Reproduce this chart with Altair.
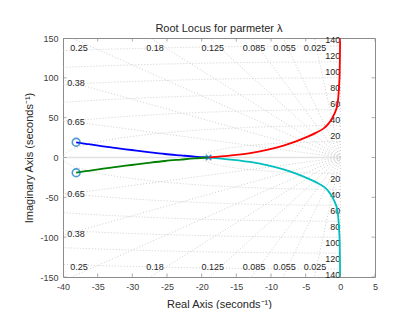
import altair as alt
import numpy as np
import pandas as pd

# ---- data ----
x_ticks = [-40, -35, -30, -25, -20, -15, -10, -5, 0, 5]
y_ticks = [-150, -100, -50, 0, 50, 100, 150]
zeta_vals = [0.025, 0.055, 0.085, 0.125, 0.18, 0.25, 0.38, 0.65]
zeta_text = ["0.025", "0.055", "0.085", "0.125", "0.18", "0.25", "0.38", "0.65"]
wn_vals = [20, 40, 60, 80, 100, 120, 140]

blue_re = [-38.1, -36.5, -34.9, -32.5, -30.1, -27.7, -25.3, -23.0, -21.0, -19.0]
blue_im = [19.1, 16.9, 14.8, 12.0, 9.4, 6.8, 4.4, 2.6, 1.1, 0.0]
green_re = [-38.1, -36.5, -34.9, -32.5, -30.1, -27.7, -25.3, -23.0, -21.0, -19.0]
green_im = [-19.1, -16.9, -14.8, -12.0, -9.4, -6.8, -4.4, -2.6, -1.1, 0.0]
red_re = [-19.0, -17.2, -15.4, -13.0, -10.6, -8.2, -6.4, -4.8, -3.4, -2.4, -1.7,
          -1.2, -0.75, -0.48, -0.3, -0.18, -0.1, -0.06, -0.03]
red_im = [0.0, 1.3, 2.9, 5.6, 9.6, 15.0, 20.2, 25.8, 31.5, 36.6, 42.5,
          49.0, 57.0, 64.0, 75.0, 90.0, 105.0, 125.0, 150.0]
cyan_re = [-19.0, -17.2, -15.4, -13.0, -10.6, -8.2, -6.4, -4.8, -3.4, -2.4, -1.7,
           -1.2, -0.75, -0.48, -0.3, -0.18, -0.1, -0.06, -0.03]
cyan_im = [0.0, -1.3, -2.9, -5.6, -9.6, -15.0, -20.2, -25.8, -31.5, -36.6, -42.5,
           -49.0, -57.0, -64.0, -75.0, -90.0, -105.0, -125.0, -150.0]
zero_re = [-38.1, -38.1]
zero_im = [19.1, -19.1]
pole_re = [-19.0]
pole_im = [0.0]

XMIN, XMAX, YMIN, YMAX = -40, 5, -150, 150
FONT = "Liberation Sans"
AXC = "#8c8c8c"
TXT = "#262626"

def xenc():
    return alt.X("x:Q", scale=alt.Scale(domain=[XMIN, XMAX], nice=False, zero=False),
                 axis=alt.Axis(values=x_ticks, title="Real Axis (seconds⁻¹)", ticks=False,
                               tickSize=0, domain=False, grid=False, labelFlush=False,
                               labelOverlap=False, labelExpr="datum.value + ''",
                               labelFont=FONT, labelFontSize=9, labelColor="#404040",
                               labelPadding=5, titleFont=FONT, titleFontSize=11,
                               titleFontWeight="normal", titleColor=TXT, titlePadding=7))

def yenc():
    return alt.Y("y:Q", scale=alt.Scale(domain=[YMIN, YMAX], nice=False, zero=False),
                 axis=alt.Axis(values=y_ticks, title="Imaginary Axis (seconds⁻¹)", ticks=False,
                               tickSize=0, domain=False, grid=False, labelFlush=False,
                               labelOverlap=False, labelExpr="datum.value + ''",
                               labelFont=FONT, labelFontSize=9, labelColor="#404040",
                               labelPadding=5, titleFont=FONT, titleFontSize=11,
                               titleFontWeight="normal", titleColor=TXT, titlePadding=5))

# damping-ratio rays
ray_rows = []
lab_rows = []
for i, z in enumerate(zeta_vals):
    s = np.sqrt(1 - z * z) / z
    if 150 / s <= 40:
        ex, ey = -150 / s, 150.0
        lab_rows.append({"x": -146 / s, "y": 137, "t": zeta_text[i], "a": "center"})
        lab_rows.append({"x": -146 / s, "y": -138, "t": zeta_text[i], "a": "center"})
    else:
        ex, ey = -40.0, 40 * s
        lab_rows.append({"x": -39.4, "y": 38.8 * s - 1, "t": zeta_text[i], "a": "left"})
        lab_rows.append({"x": -39.4, "y": -38.8 * s - 1, "t": zeta_text[i], "a": "left"})
    ray_rows += [{"id": f"z{i}u", "o": 0, "x": 0.0, "y": 0.0},
                 {"id": f"z{i}u", "o": 1, "x": ex, "y": ey},
                 {"id": f"z{i}l", "o": 0, "x": 0.0, "y": 0.0},
                 {"id": f"z{i}l", "o": 1, "x": ex, "y": -ey}]
ray_rows += [{"id": "im", "o": 0, "x": 0.0, "y": -150.0}, {"id": "im", "o": 1, "x": 0.0, "y": 150.0}]

# natural-frequency arcs
ang = np.linspace(np.pi / 2, 3 * np.pi / 2, 361)
for r in wn_vals:
    for k, a in enumerate(ang):
        ray_rows.append({"id": f"w{r}", "o": k, "x": r * np.cos(a), "y": r * np.sin(a)})
    lab_rows.append({"x": 0.0, "y": r + 7.5, "t": str(r), "a": "right"})
    lab_rows.append({"x": 0.0, "y": -r - 7.5, "t": str(r), "a": "right"})

grid_df = pd.DataFrame(ray_rows)
lab_df = pd.DataFrame(lab_rows)

grid = alt.Chart(grid_df).mark_line(clip=True, color="#c2c2c2", strokeWidth=0.8,
                                    strokeDash=[1, 2]).encode(
    x=xenc(), y=yenc(), detail="id:N", order="o:Q")

real_axis = alt.Chart(pd.DataFrame({"x": [XMIN, 0], "y": [0, 0]})).mark_line(
    color="#e2e2e2", strokeWidth=1.5, clip=True).encode(x=xenc(), y=yenc())

labels_c = alt.Chart(lab_df[lab_df.a == "center"]).mark_text(
    font=FONT, fontSize=9, color=TXT, align="center", baseline="middle").encode(
    x=xenc(), y=yenc(), text="t:N")
labels_l = alt.Chart(lab_df[lab_df.a == "left"]).mark_text(
    font=FONT, fontSize=9, color=TXT, align="left", baseline="middle").encode(
    x=xenc(), y=yenc(), text="t:N")
labels_r = alt.Chart(lab_df[lab_df.a == "right"]).mark_text(
    font=FONT, fontSize=9, color=TXT, align="right", baseline="middle", dx=0).encode(
    x=xenc(), y=yenc(), text="t:N")

def branch(re, im, color):
    df = pd.DataFrame({"x": re, "y": im, "o": list(range(len(re)))})
    return alt.Chart(df).mark_line(color=color, strokeWidth=1.8, clip=True,
                                   interpolate="monotone").encode(
        x=xenc(), y=yenc(), order="o:Q")

b_blue = branch(blue_re, blue_im, "#0000ff")
b_green = branch(green_re, green_im, "#008000")
b_cyan = branch(cyan_re, cyan_im, "#00bfbf")
b_red = branch(red_re, red_im, "#ff0000")

zeros = alt.Chart(pd.DataFrame({"x": zero_re, "y": zero_im})).mark_point(
    shape="circle", filled=False, color="#0072bd", size=60, strokeWidth=1.6).encode(
    x=xenc(), y=yenc())
poles = alt.Chart(pd.DataFrame({"x": pole_re, "y": pole_im})).mark_point(
    shape="M-1,-1L1,1M-1,1L1,-1", filled=False, color="#0072bd", size=30,
    strokeWidth=1.6).encode(x=xenc(), y=yenc())

tx = pd.DataFrame([{"x": v, "y": e} for v in x_ticks for e in (YMIN, YMAX)])
ty = pd.DataFrame([{"x": e, "y": v} for v in y_ticks for e in (XMIN, XMAX)])
ticks_x = alt.Chart(tx).mark_tick(orient="vertical", size=7, thickness=1, color=AXC,
                                  clip=True).encode(x=xenc(), y=yenc())
ticks_y = alt.Chart(ty).mark_tick(orient="horizontal", size=7, thickness=1, color=AXC,
                                  clip=True).encode(x=xenc(), y=yenc())

chart = alt.layer(
    grid, real_axis, labels_c, labels_l, labels_r,
    b_blue, b_green, b_cyan, b_red, zeros, poles, ticks_x, ticks_y
).properties(
    width=312, height=239,
    title=alt.TitleParams("Root Locus for parmeter λ", font=FONT, fontSize=11,
                          fontWeight="normal", color=TXT, anchor="middle", offset=0),
    padding={"left": 55, "top": 30, "right": 32, "bottom": 32},
    autosize="none",
).configure_view(stroke=AXC, strokeWidth=1)

chart.save("out.html", embed_options={"renderer": "svg", "actions": False})
